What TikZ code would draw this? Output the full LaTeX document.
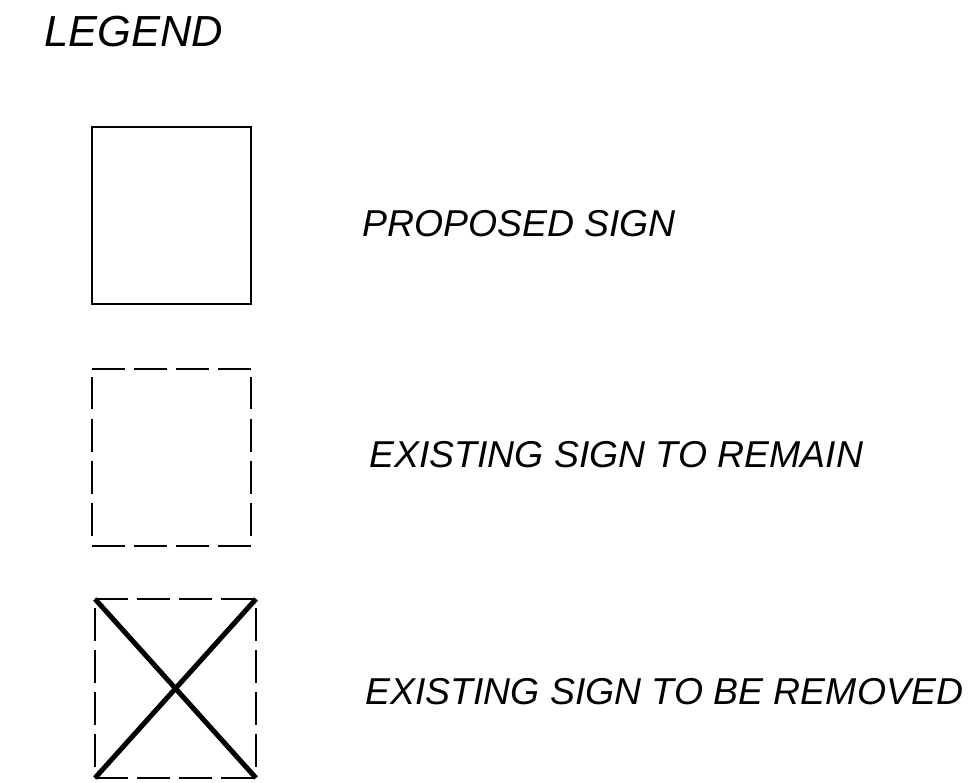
\documentclass[tikz,border=0pt]{standalone}
\usepackage{fontspec}
\setmainfont{Liberation Sans}
\tikzset{
  lbl/.style={anchor=base west, inner sep=0pt, font=\fontsize{37.4}{41}\selectfont\itshape},
  title/.style={anchor=base west, inner sep=0pt, font=\fontsize{43.5}{47}\selectfont\itshape},
  solidbox/.style={line width=2.2pt},
  dashedge/.style={line width=1.4pt, dash pattern=on 32.5pt off 9.5pt},
  crossline/.style={line width=5pt},
}
\begin{document}
\begin{tikzpicture}[x=1pt,y=-1pt]
\useasboundingbox (0,0) rectangle (980,783);
\fill[white] (0,0) rectangle (980,783);
% title
\node[title] (legend) at (44,47) {LEGEND};
% proposed sign
\draw[solidbox] (92,127) rectangle (251,304);
\node[lbl] (proposed) at (362,237) {PROPOSED SIGN};
% existing sign to remain
\draw[dashedge] (92,369) -- (251,369);
\draw[dashedge] (92,546) -- (251,546);
\draw[dashedge] (92,377) -- (92,537);
\draw[dashedge] (251,377) -- (251,537);
\node[lbl] (remain) at (369,467) {EXISTING SIGN TO REMAIN};
% existing sign to be removed
\coordinate (tl) at (95,599);
\coordinate (tr) at (256,599);
\coordinate (bl) at (95,778);
\coordinate (br) at (256,778);
\draw[dashedge] (95,599) -- (256,599);
\draw[dashedge] (95,778) -- (256,778);
\draw[dashedge] (95,608) -- (95,769);
\draw[dashedge] (256,608) -- (256,769);
\draw[crossline] (tl) -- (br);
\draw[crossline] (tr) -- (bl);
\node[lbl] (removed) at (365,704) {EXISTING SIGN TO BE REMOVED};
\end{tikzpicture}
\end{document}
